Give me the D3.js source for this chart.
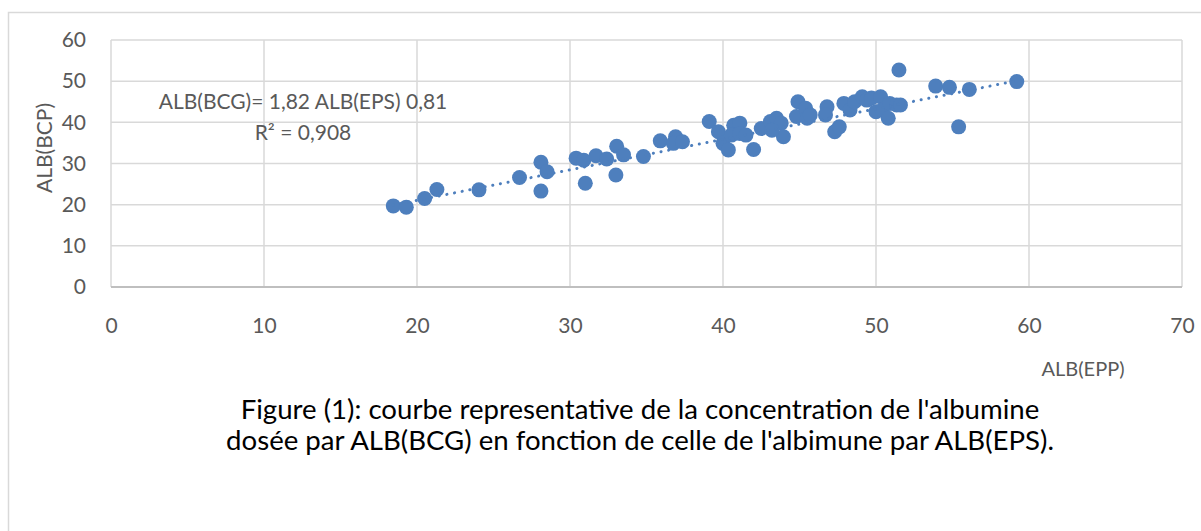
<!DOCTYPE html>
<html>
<head>
<meta charset="utf-8">
<script src="https://cdn.jsdelivr.net/npm/d3@7"></script>
<style>
  body { margin: 0; background: #fff; }
  svg { display: block; }
</style>
</head>
<body>
<script>
// ALB(EPS) values (x) and ALB(BCG) values (y)
var albEps = [18.45, 19.3, 20.5, 21.3, 24.05, 26.7, 28.1, 28.5, 28.1, 30.4,
  30.9, 31.0, 31.7, 32.4, 33.05, 33.5, 33.0, 34.8, 35.9, 36.9,
  36.75, 37.35, 39.1, 39.7, 40.0, 40.35, 40.7, 41.1, 40.55, 41.1,
  41.5, 42.0, 42.5, 43.1, 43.5, 43.8, 43.95, 43.2, 44.8, 44.9,
  45.4, 45.5, 45.7, 46.8, 46.7, 47.3, 47.6, 47.9, 48.3, 48.6,
  49.1, 49.4, 49.7, 50.3, 50.0, 50.4, 50.8, 50.9, 51.35, 51.5,
  51.6, 53.9, 54.8, 56.1, 55.4, 59.2];
var albBcg = [19.7, 19.4, 21.5, 23.7, 23.6, 26.6, 30.3, 28.0, 23.3, 31.3,
  30.8, 25.2, 31.9, 31.1, 34.2, 32.1, 27.2, 31.7, 35.5, 36.5,
  34.9, 35.3, 40.2, 37.7, 34.9, 33.3, 39.3, 39.8, 36.9, 37.3,
  36.9, 33.4, 38.5, 40.2, 41.0, 39.8, 36.5, 38.1, 41.4, 45.0,
  43.4, 41.0, 41.8, 43.8, 41.8, 37.7, 38.9, 44.6, 43.0, 45.0,
  46.2, 45.4, 45.9, 46.2, 42.6, 43.0, 41.0, 44.6, 44.2, 52.7,
  44.2, 48.8, 48.5, 48.0, 38.9, 49.9];

// trendline ends as drawn in the figure
var trendX = [18.45, 59.2];
var trendY = [19.9, 50.1];

var xTicks = [0, 10, 20, 30, 40, 50, 60, 70];
var yTicks = [0, 10, 20, 30, 40, 50, 60];

var equationLines = ["ALB(BCG)= 1,82 ALB(EPS) 0,81", "R\u00b2 = 0,908"];
var captionLines = ["Figure (1): courbe representative de la concentration de l'albumine",
  "dos\u00e9e par ALB(BCG) en fonction de celle de l'albimune par ALB(EPS)."];

var w = 1201, h = 531;
var margin = {top: 40, right: 19, bottom: 244, left: 111};
var font = "Lato, 'Open Sans', sans-serif";
var grey = "#595959";
var dotColor = "#4e7fbd";

var svg = d3.select("body").append("svg")
  .attr("width", w)
  .attr("height", h);

// chart frame
svg.append("rect")
  .attr("x", 8.5).attr("y", 12.5)
  .attr("width", 1220).attr("height", 560)
  .attr("fill", "none")
  .attr("stroke", "#d9d9d9")
  .attr("stroke-width", 1.5);

var x = d3.scaleLinear().domain([0, 70]).range([margin.left, w - margin.right]);
var y = d3.scaleLinear().domain([0, 60]).range([h - margin.bottom, margin.top]);

// gridlines
svg.append("g").selectAll("line.v")
  .data(xTicks)
  .enter().append("line")
  .attr("x1", function(d) { return x(d); })
  .attr("x2", function(d) { return x(d); })
  .attr("y1", y(0)).attr("y2", y(60))
  .attr("stroke", "#d9d9d9")
  .attr("stroke-width", 1.5);

svg.append("g").selectAll("line.h")
  .data(yTicks.slice(1))
  .enter().append("line")
  .attr("x1", x(0)).attr("x2", x(70))
  .attr("y1", function(d) { return y(d); })
  .attr("y2", function(d) { return y(d); })
  .attr("stroke", "#d9d9d9")
  .attr("stroke-width", 1.5);

// axes (labels only, Excel style)
var xAxis = svg.append("g")
  .attr("transform", "translate(0," + y(0) + ")")
  .call(d3.axisBottom(x).tickValues(xTicks).tickSize(0).tickPadding(31));
var yAxis = svg.append("g")
  .attr("transform", "translate(" + x(0) + ",0)")
  .call(d3.axisLeft(y).tickValues(yTicks).tickSize(0).tickPadding(25));

[xAxis, yAxis].forEach(function(a) {
  a.select(".domain").remove();
  a.selectAll("text")
    .attr("fill", grey)
    .style("font-family", font)
    .style("font-size", "21px");
});

// bottom axis line
svg.append("line")
  .attr("x1", x(0)).attr("x2", x(70))
  .attr("y1", y(0)).attr("y2", y(0))
  .attr("stroke", "#bfbfbf")
  .attr("stroke-width", 2);

// points
svg.append("g").selectAll("circle")
  .data(albEps)
  .enter().append("circle")
  .attr("cx", function(d) { return x(d); })
  .attr("cy", function(d, i) { return y(albBcg[i]); })
  .attr("r", 7.5)
  .attr("fill", dotColor);

// dotted linear trendline
svg.append("line")
  .attr("x1", x(trendX[0])).attr("y1", y(trendY[0]))
  .attr("x2", x(trendX[1])).attr("y2", y(trendY[1]))
  .attr("stroke", dotColor)
  .attr("stroke-width", 3)
  .attr("stroke-linecap", "round")
  .attr("stroke-dasharray", "0.1 7.7");

// trendline equation
svg.append("g").selectAll("text")
  .data(equationLines)
  .enter().append("text")
  .attr("x", 303)
  .attr("y", function(d, i) { return 109 + i * 31; })
  .attr("text-anchor", "middle")
  .attr("fill", grey)
  .style("font-family", font)
  .style("font-size", "21px")
  .text(function(d) { return d; });

// axis titles
svg.append("text")
  .attr("x", 1083).attr("y", 376)
  .attr("text-anchor", "middle")
  .attr("fill", grey)
  .style("font-family", font)
  .style("font-size", "20px")
  .text("ALB(EPP)");

svg.append("text")
  .attr("transform", "translate(52,148) rotate(-90)")
  .attr("text-anchor", "middle")
  .attr("fill", grey)
  .style("font-family", font)
  .style("font-size", "21px")
  .text("ALB(BCP)");

// caption
svg.append("g").selectAll("text")
  .data(captionLines)
  .enter().append("text")
  .attr("x", 640)
  .attr("y", function(d, i) { return 419 + i * 31; })
  .attr("text-anchor", "middle")
  .attr("fill", "#000")
  .style("font-family", font)
  .style("font-size", "27.6px")
  .text(function(d) { return d; });
</script>
</body>
</html>
